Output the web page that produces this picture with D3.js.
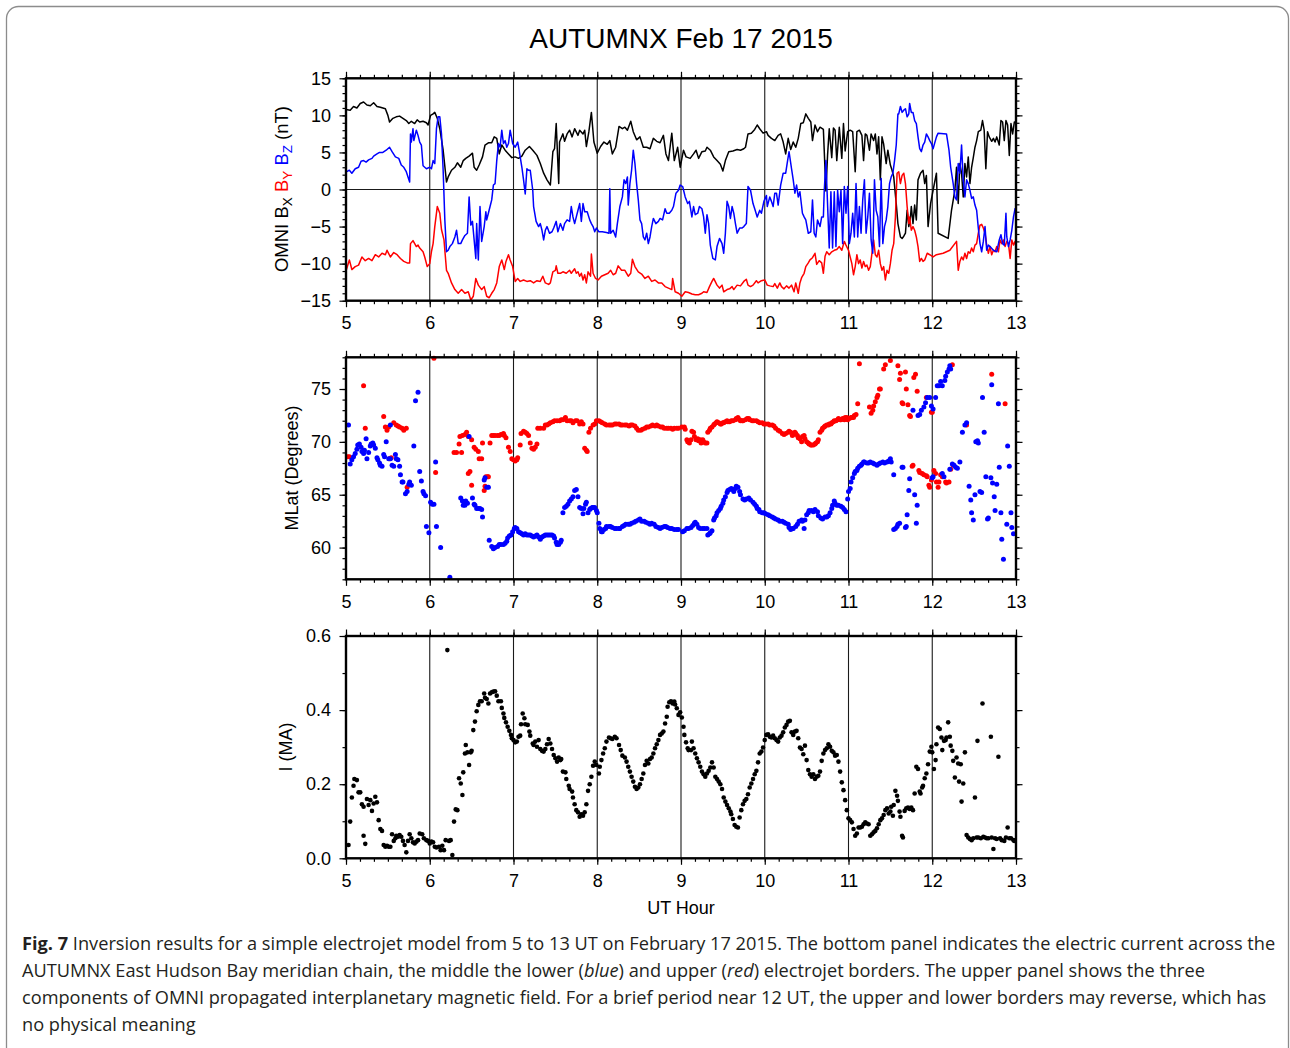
<!DOCTYPE html>
<html><head><meta charset="utf-8">
<script src="https://cdn.jsdelivr.net/npm/d3@7"></script>
<style>body{margin:0;background:#fff}svg{display:block}</style>
</head><body>
<svg id="chart" width="1290" height="1048"></svg>
<script>
// ---------------- DATA ----------------
const titleText = "AUTUMNX Feb 17 2015";
const hourTicks = [5,6,7,8,9,10,11,12,13];
const gridHours = [6,7,8,9,10,11,12];
const imfTicks = [-15,-10,-5,0,5,10,15];
const latTicks = [60,65,70,75];
const currentTicks = [0,0.2,0.4,0.6];

// OMNI Bx (nT) [UT hour, value]
const bxSeries = [[5.00,10.8],[5.05,10.7],[5.09,11.2],[5.13,11.0],[5.17,11.6],[5.21,11.8],[5.25,11.4],[5.29,11.3],[5.33,11.7],[5.37,11.2],[5.41,11.1],[5.47,10.9],[5.50,10.0],[5.52,9.1],[5.56,9.6],[5.60,9.8],[5.64,9.9],[5.68,9.6],[5.72,9.3],[5.75,8.9],[5.78,9.2],[5.82,8.9],[5.85,9.4],[5.88,9.1],[5.92,9.2],[5.96,9.0],[5.98,8.7],[6.01,10.0],[6.04,10.2],[6.06,10.4],[6.09,9.6],[6.12,8.2],[6.16,5.3],[6.20,1.0],[6.22,1.7],[6.26,2.6],[6.30,3.0],[6.33,3.6],[6.37,3.0],[6.40,3.9],[6.43,4.2],[6.47,4.5],[6.51,4.9],[6.53,3.0],[6.56,2.6],[6.59,3.3],[6.63,4.4],[6.66,6.0],[6.70,6.3],[6.74,6.3],[6.77,7.1],[6.80,6.9],[6.83,4.8],[6.86,6.0],[6.90,5.3],[6.94,4.8],[6.98,4.3],[7.02,4.4],[7.06,4.2],[7.10,4.5],[7.14,5.3],[7.19,5.8],[7.23,5.3],[7.28,4.6],[7.32,3.5],[7.36,2.2],[7.40,1.3],[7.44,0.6],[7.47,5.1],[7.49,5.5],[7.51,8.9],[7.54,0.8],[7.55,6.4],[7.59,7.5],[7.61,6.5],[7.64,7.5],[7.67,8.0],[7.70,7.1],[7.73,8.2],[7.77,7.3],[7.79,8.0],[7.83,7.5],[7.85,8.0],[7.87,5.8],[7.90,7.8],[7.93,10.4],[7.96,6.4],[8.00,4.9],[8.04,5.8],[8.08,6.4],[8.12,6.1],[8.15,6.6],[8.18,4.8],[8.22,5.7],[8.26,8.5],[8.30,8.2],[8.33,8.4],[8.36,8.0],[8.40,9.2],[8.43,7.8],[8.47,6.7],[8.51,7.1],[8.55,5.7],[8.59,5.7],[8.63,5.5],[8.67,6.9],[8.71,6.5],[8.75,6.3],[8.79,7.3],[8.82,4.8],[8.85,3.9],[8.89,7.6],[8.92,3.9],[8.96,5.7],[8.99,3.0],[9.03,5.3],[9.06,4.4],[9.11,4.2],[9.15,4.8],[9.18,5.3],[9.21,4.2],[9.25,5.1],[9.29,5.2],[9.31,5.7],[9.35,5.3],[9.39,4.4],[9.43,3.9],[9.47,3.4],[9.50,2.5],[9.53,3.9],[9.57,5.1],[9.62,5.2],[9.67,5.4],[9.71,5.3],[9.75,5.5],[9.77,5.7],[9.80,7.5],[9.84,7.6],[9.88,8.1],[9.91,8.7],[9.94,8.2],[9.98,7.6],[10.02,7.8],[10.04,7.3],[10.08,6.9],[10.12,6.6],[10.16,7.3],[10.19,7.5],[10.22,6.4],[10.25,4.8],[10.28,6.9],[10.31,5.4],[10.34,6.4],[10.37,5.7],[10.40,6.9],[10.43,8.9],[10.46,9.0],[10.49,10.2],[10.52,9.6],[10.55,9.1],[10.57,6.6],[10.60,8.7],[10.63,7.8],[10.66,8.4],[10.70,8.1],[10.73,-0.2],[10.75,4.6],[10.77,8.2],[10.80,4.3],[10.82,8.3],[10.84,8.0],[10.86,3.9],[10.89,8.4],[10.92,4.2],[10.94,8.9],[10.96,5.2],[10.99,7.8],[11.02,8.0],[11.05,7.8],[11.08,2.4],[11.10,7.8],[11.13,8.0],[11.16,7.3],[11.18,3.9],[11.20,7.5],[11.22,7.3],[11.25,5.3],[11.27,7.5],[11.30,6.6],[11.32,7.5],[11.34,4.8],[11.36,7.1],[11.38,1.3],[11.40,7.1],[11.42,6.1],[11.45,3.5],[11.47,5.3],[11.50,3.3],[11.52,2.6],[11.54,1.7],[11.57,-1.9],[11.59,-4.6],[11.62,-6.4],[11.64,-6.6],[11.66,-6.3],[11.68,-5.9],[11.70,-2.8],[11.72,-5.0],[11.74,-3.7],[11.75,-2.3],[11.77,-4.6],[11.79,-2.1],[11.81,-4.1],[11.83,1.3],[11.86,2.2],[11.89,2.6],[11.91,0.8],[11.93,1.9],[11.95,-5.0],[11.98,-1.9],[12.01,-0.1],[12.05,2.2],[12.07,-5.9],[12.19,-6.6],[12.23,-2.8],[12.27,-0.1],[12.29,3.0],[12.31,-1.9],[12.33,3.5],[12.35,2.2],[12.37,-1.0],[12.39,3.5],[12.41,1.7],[12.43,4.4],[12.45,0.8],[12.47,3.0],[12.49,4.3],[12.51,5.7],[12.53,6.6],[12.55,7.8],[12.58,8.0],[12.60,9.3],[12.62,8.0],[12.64,2.8],[12.66,7.8],[12.68,7.1],[12.71,6.5],[12.73,6.9],[12.75,6.4],[12.77,7.1],[12.80,6.0],[12.82,9.3],[12.84,9.1],[12.86,6.6],[12.88,9.3],[12.90,8.7],[12.92,4.6],[12.94,8.9],[12.96,7.5],[12.98,9.1],[13.00,9.0]];

// OMNI By (nT)
const bySeries = [[5.00,-11.0],[5.04,-9.5],[5.07,-10.8],[5.11,-10.4],[5.15,-10.2],[5.19,-9.1],[5.23,-9.6],[5.27,-9.3],[5.31,-9.6],[5.35,-8.8],[5.39,-9.1],[5.43,-8.6],[5.47,-8.8],[5.49,-8.2],[5.53,-9.1],[5.57,-8.5],[5.61,-8.8],[5.65,-9.3],[5.69,-9.7],[5.73,-9.9],[5.76,-9.9],[5.77,-7.3],[5.80,-6.9],[5.84,-7.7],[5.86,-7.5],[5.88,-7.9],[5.92,-8.4],[5.94,-9.1],[5.97,-10.4],[6.00,-10.0],[6.02,-8.4],[6.04,-7.3],[6.06,-5.0],[6.09,-2.3],[6.12,-3.2],[6.14,-5.4],[6.17,-6.8],[6.20,-10.9],[6.22,-11.3],[6.26,-12.6],[6.30,-13.5],[6.34,-14.0],[6.38,-13.5],[6.42,-14.0],[6.46,-13.8],[6.49,-14.9],[6.52,-14.4],[6.55,-12.0],[6.58,-12.9],[6.62,-13.5],[6.65,-13.1],[6.68,-14.4],[6.71,-14.6],[6.74,-14.0],[6.77,-13.5],[6.80,-12.6],[6.83,-10.4],[6.86,-9.5],[6.89,-10.8],[6.91,-9.7],[6.94,-8.8],[6.96,-9.5],[6.99,-10.4],[7.02,-12.4],[7.05,-12.0],[7.08,-12.4],[7.12,-12.2],[7.16,-12.4],[7.20,-12.3],[7.24,-12.6],[7.28,-12.3],[7.32,-12.4],[7.35,-11.7],[7.38,-12.6],[7.42,-12.8],[7.44,-12.6],[7.47,-11.1],[7.50,-10.9],[7.51,-10.3],[7.53,-11.3],[7.56,-11.3],[7.59,-11.1],[7.63,-11.3],[7.67,-10.9],[7.69,-11.3],[7.73,-10.7],[7.75,-11.3],[7.77,-11.1],[7.79,-11.7],[7.81,-11.3],[7.83,-12.2],[7.85,-11.5],[7.87,-12.6],[7.89,-11.1],[7.92,-11.7],[7.93,-8.7],[7.95,-11.3],[7.98,-12.0],[8.01,-12.2],[8.05,-11.7],[8.09,-11.5],[8.13,-11.3],[8.16,-10.9],[8.19,-11.5],[8.22,-11.3],[8.25,-10.3],[8.29,-10.9],[8.33,-10.9],[8.37,-11.7],[8.40,-11.3],[8.42,-9.4],[8.45,-10.4],[8.49,-11.1],[8.53,-11.4],[8.57,-12.0],[8.61,-11.7],[8.65,-12.4],[8.69,-12.2],[8.73,-12.6],[8.77,-12.6],[8.81,-13.1],[8.85,-13.3],[8.89,-13.5],[8.90,-12.0],[8.93,-13.8],[8.97,-14.0],[9.01,-14.4],[9.05,-13.8],[9.09,-13.9],[9.13,-14.1],[9.17,-14.2],[9.21,-14.2],[9.25,-14.0],[9.27,-13.8],[9.31,-13.9],[9.34,-13.1],[9.37,-12.4],[9.39,-12.0],[9.43,-12.9],[9.46,-13.3],[9.49,-12.9],[9.51,-13.8],[9.55,-13.5],[9.58,-13.4],[9.61,-13.1],[9.63,-13.5],[9.67,-12.9],[9.71,-13.0],[9.75,-12.4],[9.78,-12.1],[9.80,-12.9],[9.83,-13.1],[9.86,-12.9],[9.90,-12.3],[9.92,-12.6],[9.96,-12.3],[10.00,-12.2],[10.03,-12.9],[10.06,-13.0],[10.10,-13.1],[10.12,-12.7],[10.15,-13.3],[10.18,-12.6],[10.20,-13.1],[10.23,-13.4],[10.26,-13.0],[10.29,-13.3],[10.32,-12.9],[10.35,-13.8],[10.37,-12.6],[10.40,-14.0],[10.42,-12.6],[10.44,-11.9],[10.47,-11.3],[10.49,-10.4],[10.52,-9.9],[10.54,-9.5],[10.57,-9.2],[10.60,-8.6],[10.62,-10.1],[10.65,-9.6],[10.68,-9.9],[10.70,-11.3],[10.72,-9.0],[10.74,-8.4],[10.77,-8.8],[10.80,-8.4],[10.83,-8.2],[10.86,-8.1],[10.89,-7.7],[10.92,-8.2],[10.95,-7.0],[10.97,-7.5],[11.00,-8.2],[11.02,-9.1],[11.04,-10.0],[11.06,-11.5],[11.08,-10.4],[11.10,-8.8],[11.12,-10.0],[11.14,-9.5],[11.16,-10.6],[11.18,-9.7],[11.20,-10.4],[11.22,-10.2],[11.24,-10.9],[11.26,-10.4],[11.28,-8.6],[11.30,-6.8],[11.32,-8.8],[11.34,-9.1],[11.36,-8.2],[11.38,-10.0],[11.40,-10.9],[11.42,-10.4],[11.44,-12.2],[11.46,-10.9],[11.48,-11.3],[11.50,-10.0],[11.52,-8.2],[11.54,-7.3],[11.56,-3.7],[11.58,2.2],[11.60,2.4],[11.62,0.8],[11.64,1.9],[11.66,2.2],[11.68,0.8],[11.70,-2.3],[11.72,-4.6],[11.73,-3.7],[11.75,-5.5],[11.77,-5.0],[11.79,-5.5],[11.81,-6.4],[11.83,-7.7],[11.85,-9.7],[11.87,-9.3],[11.89,-9.7],[11.91,-9.5],[11.94,-8.6],[11.97,-8.8],[12.01,-9.1],[12.05,-8.8],[12.13,-8.6],[12.21,-8.2],[12.29,-7.0],[12.31,-10.9],[12.33,-9.7],[12.35,-9.1],[12.37,-9.5],[12.39,-8.6],[12.41,-9.3],[12.43,-8.4],[12.45,-8.6],[12.47,-7.9],[12.49,-8.4],[12.51,-7.5],[12.53,-7.3],[12.55,-5.9],[12.57,-4.8],[12.59,-4.7],[12.61,-5.2],[12.63,-5.9],[12.65,-7.5],[12.67,-8.6],[12.69,-7.7],[12.71,-8.8],[12.73,-8.2],[12.75,-8.4],[12.77,-7.7],[12.79,-8.4],[12.81,-6.8],[12.83,-7.3],[12.85,-6.8],[12.87,-7.7],[12.89,-7.0],[12.91,-7.3],[12.93,-9.3],[12.95,-6.8],[12.97,-7.5],[12.99,-7.0],[13.00,-7.7]];

// OMNI Bz (nT)
const bzSeries = [[5.01,2.4],[5.04,2.6],[5.07,2.2],[5.11,2.8],[5.15,3.0],[5.18,3.8],[5.21,3.9],[5.24,3.7],[5.27,4.0],[5.31,4.2],[5.33,4.5],[5.37,4.8],[5.40,5.0],[5.44,5.0],[5.48,5.3],[5.52,5.7],[5.55,5.1],[5.59,4.4],[5.63,4.2],[5.66,3.3],[5.69,3.0],[5.72,2.4],[5.76,1.0],[5.77,7.5],[5.78,6.4],[5.80,8.2],[5.81,6.6],[5.84,8.0],[5.86,7.3],[5.88,6.4],[5.90,6.0],[5.92,3.2],[5.94,3.0],[5.96,2.8],[6.00,3.0],[6.02,2.8],[6.04,3.9],[6.06,3.5],[6.08,8.2],[6.10,9.8],[6.12,9.8],[6.14,7.5],[6.16,2.6],[6.18,-4.1],[6.20,-8.4],[6.22,-8.2],[6.24,-7.7],[6.27,-7.3],[6.30,-6.4],[6.32,-5.5],[6.34,-7.3],[6.37,-7.3],[6.39,-6.8],[6.42,-6.2],[6.45,-5.9],[6.47,-1.0],[6.49,-4.8],[6.51,-4.3],[6.53,-6.8],[6.55,-9.3],[6.56,-4.6],[6.58,-9.5],[6.60,-2.3],[6.62,-7.0],[6.65,-5.0],[6.67,-3.0],[6.68,-4.1],[6.70,-3.2],[6.72,-2.3],[6.74,-1.4],[6.76,0.6],[6.78,0.8],[6.80,3.9],[6.82,6.2],[6.84,5.7],[6.86,8.0],[6.88,6.2],[6.90,6.6],[6.92,5.7],[6.94,6.2],[6.96,8.0],[6.99,6.2],[7.02,5.7],[7.05,6.4],[7.07,5.1],[7.10,3.0],[7.12,1.3],[7.14,-0.6],[7.16,2.8],[7.18,2.6],[7.20,2.6],[7.23,-0.1],[7.24,-2.3],[7.27,-4.3],[7.30,-5.0],[7.32,-4.6],[7.34,-5.5],[7.36,-6.8],[7.38,-5.5],[7.40,-5.0],[7.43,-5.9],[7.46,-5.7],[7.48,-5.2],[7.51,-4.3],[7.53,-5.7],[7.56,-4.6],[7.59,-5.5],[7.61,-4.6],[7.64,-4.1],[7.67,-4.3],[7.69,-2.3],[7.71,-3.7],[7.73,-4.6],[7.75,-3.7],[7.77,-2.8],[7.79,-1.9],[7.81,-4.3],[7.83,-1.9],[7.85,-3.0],[7.88,-3.0],[7.91,-4.1],[7.93,-4.6],[7.95,-5.0],[7.97,-5.7],[7.99,-5.2],[8.02,-5.7],[8.06,-5.7],[8.11,-5.8],[8.14,-5.9],[8.15,0.1],[8.16,-5.9],[8.19,-5.5],[8.22,-6.4],[8.24,-4.6],[8.27,-2.3],[8.30,-1.0],[8.32,1.3],[8.34,0.8],[8.36,1.7],[8.37,-2.1],[8.39,0.8],[8.41,2.6],[8.43,5.3],[8.45,3.5],[8.47,0.8],[8.49,-1.4],[8.51,-4.1],[8.53,-4.6],[8.55,-6.4],[8.57,-6.8],[8.59,-5.9],[8.61,-7.3],[8.63,-6.4],[8.65,-5.0],[8.67,-3.9],[8.70,-4.6],[8.73,-4.3],[8.75,-3.9],[8.78,-4.1],[8.81,-2.6],[8.83,-3.2],[8.86,-3.2],[8.89,-2.8],[8.91,-2.3],[8.94,-0.5],[8.97,-0.1],[8.99,0.6],[9.02,0.4],[9.05,-1.0],[9.08,-1.9],[9.10,-1.6],[9.13,-3.7],[9.15,-2.3],[9.17,-3.4],[9.20,-3.2],[9.22,-2.3],[9.25,-2.6],[9.27,-3.7],[9.29,-5.9],[9.31,-3.4],[9.33,-4.6],[9.35,-7.5],[9.38,-9.3],[9.41,-9.5],[9.43,-7.7],[9.46,-6.6],[9.49,-7.3],[9.51,-8.6],[9.53,-5.9],[9.55,-1.6],[9.57,-2.3],[9.59,-3.9],[9.61,-2.3],[9.63,-3.2],[9.65,-4.6],[9.67,-5.9],[9.70,-5.2],[9.73,-5.2],[9.75,-5.0],[9.78,-4.6],[9.80,0.4],[9.83,-0.1],[9.86,-1.9],[9.88,-2.6],[9.91,-3.7],[9.94,-2.8],[9.96,-3.2],[9.99,-1.6],[10.02,-0.8],[10.03,-2.3],[10.06,-1.0],[10.08,-1.6],[10.10,-2.3],[10.12,-0.5],[10.14,-0.5],[10.16,-2.1],[10.19,0.6],[10.22,2.2],[10.25,2.2],[10.27,3.7],[10.29,5.1],[10.32,2.8],[10.34,1.3],[10.36,-0.5],[10.38,0.6],[10.40,-1.0],[10.42,-0.3],[10.45,-3.2],[10.47,-3.7],[10.49,-4.1],[10.52,-5.9],[10.55,-5.7],[10.57,-1.4],[10.59,-5.9],[10.61,-6.4],[10.63,-4.1],[10.66,-5.0],[10.68,-3.7],[10.70,-3.7],[10.71,-0.3],[10.73,3.9],[10.77,-7.9],[10.79,-0.3],[10.81,-7.9],[10.83,-0.3],[10.85,-7.7],[10.87,-0.1],[10.89,-3.0],[10.91,-0.1],[10.93,-7.3],[10.95,0.4],[10.97,-3.2],[10.99,0.4],[11.01,-7.3],[11.03,-5.9],[11.05,-3.2],[11.07,-6.4],[11.09,0.8],[11.11,-6.4],[11.13,-2.3],[11.15,-5.9],[11.17,-1.4],[11.19,1.3],[11.21,-5.9],[11.23,-3.7],[11.25,-0.5],[11.27,-6.8],[11.29,-8.6],[11.31,1.3],[11.33,-2.8],[11.35,-3.7],[11.37,-7.7],[11.39,1.5],[11.41,-7.3],[11.43,-5.0],[11.45,-4.1],[11.47,-2.3],[11.49,0.8],[11.51,1.7],[11.53,2.2],[11.55,3.9],[11.57,6.0],[11.59,10.2],[11.60,10.2],[11.62,11.2],[11.64,10.4],[11.66,10.7],[11.68,10.9],[11.70,9.8],[11.72,10.2],[11.73,11.6],[11.75,10.4],[11.77,10.4],[11.79,9.3],[11.81,8.9],[11.83,7.1],[11.85,5.5],[11.87,5.1],[11.89,6.0],[11.91,6.4],[11.93,7.5],[11.95,7.1],[11.97,6.6],[11.99,6.2],[12.01,5.5],[12.05,7.1],[12.07,7.6],[12.17,7.5],[12.20,5.3],[12.22,3.0],[12.25,0.8],[12.27,-1.0],[12.29,-1.4],[12.31,3.5],[12.33,2.2],[12.35,6.0],[12.37,1.3],[12.39,-1.0],[12.41,1.3],[12.43,0.8],[12.45,-0.1],[12.47,-1.2],[12.49,-1.0],[12.51,-2.1],[12.53,-2.8],[12.55,-5.2],[12.57,-7.3],[12.59,-8.4],[12.61,-7.0],[12.63,-5.0],[12.65,-8.2],[12.67,-7.5],[12.69,-7.7],[12.73,-8.2],[12.77,-8.4],[12.80,-6.8],[12.82,-6.1],[12.84,-7.3],[12.86,-7.5],[12.88,-3.2],[12.89,-6.4],[12.91,-7.7],[12.93,-6.8],[12.95,-5.5],[12.97,-3.7],[12.99,-2.5]];

// Upper electrojet border (red), MLat degrees
const upperBorder = [[5.02,68.6],[5.04,68.6],[5.21,75.3],[5.23,71.3],[5.45,72.4],[5.47,71.4],[5.49,71.1],[5.51,71.4],[5.52,68.4],[5.54,68.5],[5.57,71.8],[5.60,71.6],[5.62,71.5],[5.64,71.4],[5.67,71.3],[5.69,71.1],[5.72,71.3],[5.73,65.7],[6.05,77.9],[6.07,67.1],[6.29,69.0],[6.32,69.0],[6.35,69.8],[6.36,70.5],[6.38,69.0],[6.39,70.6],[6.42,70.7],[6.44,70.9],[6.46,70.5],[6.46,67.0],[6.48,67.2],[6.50,65.9],[6.50,70.2],[6.53,69.5],[6.55,69.3],[6.58,69.1],[6.59,68.4],[6.62,68.4],[6.63,69.9],[6.65,65.4],[6.66,65.8],[6.67,66.7],[6.69,66.7],[6.70,66.7],[6.72,69.9],[6.74,70.6],[6.76,70.6],[6.78,70.6],[6.81,70.6],[6.83,70.6],[6.85,70.7],[6.88,70.8],[6.89,70.6],[6.91,70.4],[6.94,69.5],[6.96,69.1],[6.98,68.4],[7.00,68.3],[7.02,68.2],[7.04,68.3],[7.05,68.5],[7.08,69.7],[7.09,70.8],[7.12,71.0],[7.14,70.9],[7.16,70.8],[7.18,70.6],[7.20,69.9],[7.22,69.4],[7.24,69.3],[7.26,69.5],[7.28,69.8],[7.29,71.3],[7.32,71.3],[7.36,71.3],[7.38,71.6],[7.40,71.6],[7.42,71.7],[7.44,71.8],[7.47,71.9],[7.49,72.0],[7.52,72.0],[7.55,72.0],[7.57,72.1],[7.59,72.1],[7.62,72.3],[7.64,72.0],[7.67,72.0],[7.69,72.0],[7.71,71.8],[7.74,72.0],[7.76,72.0],[7.79,71.7],[7.81,71.9],[7.83,71.7],[7.85,69.4],[7.87,69.2],[7.88,69.1],[7.90,70.9],[7.92,71.3],[7.95,71.6],[7.97,71.7],[7.99,72.0],[8.02,72.0],[8.04,71.9],[8.06,71.8],[8.09,71.7],[8.11,71.6],[8.14,71.6],[8.16,71.6],[8.18,71.6],[8.21,71.7],[8.23,71.7],[8.26,71.7],[8.28,71.6],[8.30,71.6],[8.33,71.6],[8.35,71.6],[8.38,71.5],[8.40,71.6],[8.42,71.6],[8.45,71.5],[8.47,71.3],[8.49,71.1],[8.52,71.1],[8.54,71.2],[8.57,71.3],[8.59,71.4],[8.61,71.4],[8.64,71.5],[8.66,71.6],[8.69,71.5],[8.71,71.6],[8.73,71.5],[8.76,71.4],[8.78,71.4],[8.80,71.3],[8.83,71.3],[8.85,71.3],[8.88,71.3],[8.90,71.2],[8.92,71.3],[8.95,71.3],[8.97,71.3],[9.01,71.4],[9.04,71.4],[9.05,71.2],[9.07,70.2],[9.08,70.0],[9.10,69.9],[9.12,70.2],[9.13,71.0],[9.15,70.9],[9.16,70.5],[9.18,70.2],[9.20,70.3],[9.21,70.1],[9.23,70.2],[9.24,69.9],[9.26,70.2],[9.27,70.0],[9.29,69.9],[9.31,69.9],[9.32,70.9],[9.34,71.1],[9.35,71.3],[9.37,71.4],[9.39,71.6],[9.40,71.7],[9.42,71.8],[9.43,71.9],[9.45,71.8],[9.47,71.7],[9.48,71.7],[9.50,71.8],[9.51,71.8],[9.53,71.9],[9.55,72.0],[9.56,71.9],[9.58,71.9],[9.60,72.0],[9.62,72.0],[9.65,72.1],[9.66,72.2],[9.68,72.3],[9.70,72.1],[9.71,72.0],[9.73,72.0],[9.74,72.0],[9.77,72.1],[9.79,72.2],[9.81,72.2],[9.82,72.1],[9.85,72.0],[9.87,72.0],[9.90,72.0],[9.92,71.9],[9.94,71.8],[9.97,71.8],[9.99,71.7],[10.01,71.7],[10.04,71.7],[10.06,71.6],[10.09,71.6],[10.11,71.5],[10.13,71.3],[10.16,71.1],[10.18,71.0],[10.21,70.8],[10.23,70.7],[10.25,70.8],[10.28,70.9],[10.29,71.0],[10.31,70.9],[10.33,70.6],[10.34,70.7],[10.36,70.9],[10.37,70.8],[10.39,70.6],[10.40,70.4],[10.42,70.3],[10.44,70.0],[10.45,70.5],[10.47,70.6],[10.48,70.3],[10.50,70.0],[10.52,69.9],[10.53,69.8],[10.55,69.7],[10.56,69.7],[10.58,69.7],[10.60,69.8],[10.61,69.9],[10.63,70.0],[10.64,70.2],[10.66,70.9],[10.68,71.1],[10.69,71.3],[10.71,71.4],[10.72,71.5],[10.74,71.6],[10.76,71.6],[10.77,71.7],[10.79,71.7],[10.80,71.8],[10.82,71.9],[10.83,72.0],[10.85,72.0],[10.87,72.1],[10.88,72.2],[10.90,72.1],[10.91,72.1],[10.93,72.2],[10.95,72.1],[10.96,72.3],[10.98,72.3],[10.99,72.1],[11.01,72.2],[11.03,72.3],[11.04,72.3],[11.06,72.3],[11.07,72.5],[11.09,72.6],[11.11,73.6],[11.13,77.4],[11.25,73.3],[11.27,72.7],[11.29,73.0],[11.30,73.4],[11.32,73.8],[11.34,74.2],[11.35,74.4],[11.37,75.0],[11.38,75.0],[11.42,76.9],[11.44,77.3],[11.50,77.7],[11.59,77.2],[11.61,75.9],[11.62,76.5],[11.64,73.7],[11.65,73.6],[11.68,76.6],[11.69,75.0],[11.71,73.5],[11.73,72.5],[11.74,72.4],[11.78,76.1],[11.80,76.4],[11.82,74.8],[11.93,74.2],[11.99,72.8],[12.00,72.8],[12.24,77.3],[12.41,71.6],[12.71,76.4],[12.87,73.6],[11.76,67.7],[11.77,67.8],[11.84,67.3],[11.85,67.1],[11.88,67.0],[11.90,66.9],[11.93,66.8],[11.94,66.7],[11.96,65.9],[11.97,65.7],[11.99,66.4],[12.02,67.3],[12.04,67.0],[12.05,66.2],[12.07,65.7],[12.08,66.2],[12.10,66.9],[12.12,66.7],[12.16,66.2],[12.17,66.1],[12.20,66.2],[12.22,67.4],[12.25,67.8]];

// Lower electrojet border (blue), MLat degrees
const lowerBorder = [[5.03,71.6],[5.05,67.9],[5.07,68.3],[5.09,68.6],[5.11,68.9],[5.13,69.3],[5.14,69.7],[5.16,69.8],[5.18,69.5],[5.19,69.1],[5.21,68.9],[5.22,69.2],[5.24,70.3],[5.25,68.4],[5.27,69.0],[5.29,69.6],[5.30,69.8],[5.32,69.9],[5.33,69.7],[5.35,69.4],[5.37,68.5],[5.38,68.3],[5.40,68.0],[5.41,67.8],[5.43,67.7],[5.45,68.8],[5.46,68.6],[5.48,70.0],[5.53,71.6],[5.51,68.4],[5.53,68.4],[5.55,67.8],[5.57,67.7],[5.59,68.8],[5.60,68.4],[5.62,68.3],[5.64,67.7],[5.65,66.9],[5.67,66.2],[5.68,66.2],[5.71,65.1],[5.73,65.3],[5.75,66.0],[5.76,66.2],[5.78,65.9],[5.81,69.6],[5.83,73.9],[5.86,74.7],[5.88,67.2],[5.90,66.3],[5.92,65.3],[5.93,65.1],[5.95,64.9],[5.96,62.0],[5.99,61.4],[6.01,64.3],[6.03,64.1],[6.05,64.1],[6.07,68.1],[6.08,62.0],[6.13,60.0],[6.24,57.2],[6.37,64.7],[6.39,64.4],[6.40,64.0],[6.42,64.0],[6.43,64.4],[6.45,64.2],[6.47,70.5],[6.51,64.7],[6.53,64.1],[6.54,64.0],[6.56,63.7],[6.58,63.7],[6.60,63.7],[6.62,63.6],[6.63,62.9],[6.65,66.4],[6.66,66.6],[6.68,65.7],[6.70,65.7],[6.71,60.7],[6.74,60.1],[6.76,59.9],[6.78,60.0],[6.81,60.1],[6.83,60.3],[6.85,60.3],[6.88,60.3],[6.90,60.4],[6.92,60.6],[6.93,60.9],[6.95,61.1],[6.97,61.2],[6.99,61.5],[7.01,61.8],[7.02,61.9],[7.04,61.8],[7.06,61.5],[7.08,61.4],[7.10,61.3],[7.12,61.2],[7.14,61.3],[7.16,61.2],[7.18,61.2],[7.20,61.2],[7.22,61.1],[7.24,61.0],[7.26,61.1],[7.28,61.2],[7.30,61.0],[7.32,60.8],[7.34,61.0],[7.36,61.1],[7.38,61.2],[7.40,61.2],[7.42,61.2],[7.44,61.2],[7.46,61.2],[7.48,61.1],[7.49,60.9],[7.51,60.5],[7.52,60.3],[7.54,60.3],[7.56,60.5],[7.57,60.7],[7.59,63.3],[7.61,63.8],[7.63,63.9],[7.65,64.1],[7.67,64.4],[7.69,64.6],[7.71,64.8],[7.73,65.4],[7.75,65.5],[7.77,64.8],[7.79,63.8],[7.81,63.7],[7.83,63.2],[7.84,63.7],[7.86,64.1],[7.87,64.3],[7.89,63.3],[7.91,63.6],[7.92,63.7],[7.94,63.8],[7.95,63.8],[7.97,63.8],[7.99,63.5],[8.00,63.3],[8.02,62.3],[8.03,61.8],[8.05,61.5],[8.06,61.5],[8.08,61.7],[8.10,61.8],[8.11,62.0],[8.14,62.0],[8.16,62.0],[8.18,61.9],[8.21,61.8],[8.23,61.8],[8.26,61.8],[8.27,61.8],[8.30,62.0],[8.32,62.1],[8.34,62.2],[8.37,62.2],[8.39,62.2],[8.41,62.3],[8.44,62.4],[8.46,62.5],[8.49,62.6],[8.51,62.7],[8.53,62.5],[8.56,62.5],[8.58,62.4],[8.61,62.3],[8.63,62.2],[8.65,62.3],[8.68,62.2],[8.70,62.0],[8.73,61.9],[8.75,61.8],[8.77,61.9],[8.80,62.0],[8.82,62.0],[8.84,61.9],[8.87,61.8],[8.89,61.8],[8.92,61.7],[8.95,61.7],[8.97,61.7],[9.02,61.5],[9.04,61.6],[9.07,61.8],[9.09,61.8],[9.12,61.9],[9.14,62.1],[9.16,62.3],[9.17,62.4],[9.19,62.2],[9.21,61.9],[9.23,61.8],[9.26,61.8],[9.28,61.8],[9.31,61.8],[9.32,61.2],[9.34,61.3],[9.35,61.4],[9.37,61.6],[9.39,62.6],[9.40,62.8],[9.42,63.0],[9.43,63.3],[9.45,63.5],[9.47,63.7],[9.48,63.9],[9.50,64.2],[9.51,64.5],[9.53,64.8],[9.55,65.2],[9.56,65.4],[9.58,65.5],[9.60,65.6],[9.62,65.5],[9.63,65.3],[9.65,65.6],[9.66,65.8],[9.68,65.7],[9.70,65.3],[9.71,65.0],[9.74,64.6],[9.76,64.5],[9.78,64.6],[9.81,64.7],[9.83,64.5],[9.86,64.3],[9.88,64.1],[9.90,63.9],[9.91,63.7],[9.93,63.6],[9.94,63.4],[9.97,63.3],[9.99,63.3],[10.01,63.2],[10.04,63.1],[10.06,63.0],[10.09,62.9],[10.11,62.8],[10.13,62.7],[10.16,62.6],[10.18,62.5],[10.21,62.5],[10.23,62.4],[10.25,62.3],[10.28,62.2],[10.29,61.9],[10.31,61.7],[10.33,61.8],[10.34,61.8],[10.37,62.0],[10.39,62.2],[10.41,62.5],[10.44,62.6],[10.45,62.5],[10.47,61.8],[10.48,62.6],[10.50,63.1],[10.52,63.3],[10.53,63.5],[10.56,63.5],[10.58,63.4],[10.60,63.6],[10.63,63.4],[10.64,63.0],[10.67,62.8],[10.69,62.7],[10.72,62.9],[10.74,62.9],[10.76,63.0],[10.78,63.3],[10.80,63.7],[10.81,64.0],[10.83,64.4],[10.84,64.2],[10.86,64.0],[10.88,64.0],[10.91,63.9],[10.93,63.8],[10.95,63.6],[10.97,63.4],[10.99,64.6],[11.00,65.3],[11.02,65.6],[11.03,66.2],[11.05,66.6],[11.07,67.0],[11.08,67.2],[11.10,67.3],[11.11,67.5],[11.13,67.7],[11.15,67.8],[11.16,67.9],[11.18,68.1],[11.19,68.1],[11.22,68.0],[11.24,68.0],[11.26,68.1],[11.29,68.0],[11.31,67.9],[11.34,67.8],[11.36,67.9],[11.38,68.0],[11.41,68.1],[11.43,68.0],[11.46,68.1],[11.48,68.2],[11.50,68.4],[11.51,68.1],[11.54,66.9],[11.54,61.7],[11.56,61.8],[11.58,62.0],[11.59,62.2],[11.61,62.3],[11.64,67.6],[11.65,67.6],[11.68,61.9],[11.69,62.0],[11.70,63.1],[11.72,65.4],[11.73,66.5],[11.79,65.0],[11.81,62.3],[11.82,64.0],[11.77,73.0],[11.83,72.5],[11.85,72.6],[11.87,73.0],[11.90,73.3],[11.92,73.7],[11.94,74.2],[11.97,74.2],[11.99,73.4],[12.01,73.1],[12.04,74.2],[12.06,75.3],[12.08,75.3],[12.10,75.7],[12.12,75.3],[12.15,75.8],[12.16,76.2],[12.18,76.6],[12.20,76.9],[12.21,77.2],[12.22,76.9],[12.00,66.6],[12.01,66.7],[12.12,67.0],[12.14,66.7],[12.21,67.4],[12.24,67.9],[12.26,67.8],[12.28,67.6],[12.30,67.5],[12.33,68.1],[12.36,70.9],[12.39,71.6],[12.41,71.8],[12.44,65.8],[12.46,64.5],[12.47,63.3],[12.49,62.6],[12.51,65.0],[12.52,70.0],[12.54,70.1],[12.55,69.9],[12.57,65.3],[12.59,65.2],[12.60,74.2],[12.62,70.9],[12.64,66.7],[12.66,62.7],[12.67,62.8],[12.70,66.6],[12.71,75.4],[12.72,66.1],[12.74,64.8],[12.75,63.5],[12.77,66.0],[12.79,73.6],[12.80,67.6],[12.82,63.3],[12.83,60.8],[12.85,58.9],[12.89,62.2],[12.90,69.6],[12.92,67.7],[12.94,63.3],[12.95,61.9],[12.97,61.3]];

// Electrojet current I (MA)
const currentMA = [[5.03,0.036],[5.05,0.099],[5.07,0.164],[5.09,0.196],[5.10,0.214],[5.13,0.211],[5.15,0.178],[5.17,0.178],[5.19,0.146],[5.21,0.139],[5.21,0.061],[5.23,0.039],[5.25,0.160],[5.27,0.144],[5.29,0.157],[5.31,0.128],[5.33,0.148],[5.35,0.166],[5.37,0.151],[5.39,0.103],[5.41,0.079],[5.43,0.074],[5.45,0.036],[5.47,0.031],[5.49,0.034],[5.51,0.031],[5.53,0.031],[5.55,0.065],[5.57,0.047],[5.59,0.054],[5.60,0.061],[5.62,0.058],[5.64,0.063],[5.66,0.058],[5.68,0.047],[5.70,0.036],[5.72,0.016],[5.74,0.047],[5.76,0.065],[5.78,0.054],[5.80,0.043],[5.82,0.040],[5.84,0.045],[5.86,0.049],[5.88,0.067],[5.91,0.065],[5.93,0.054],[5.96,0.049],[5.98,0.047],[6.00,0.040],[6.02,0.045],[6.04,0.043],[6.06,0.031],[6.08,0.029],[6.11,0.031],[6.13,0.022],[6.15,0.034],[6.17,0.022],[6.19,0.049],[6.21,0.562],[6.23,0.047],[6.25,0.049],[6.27,0.009],[6.29,0.099],[6.31,0.132],[6.33,0.130],[6.35,0.216],[6.37,0.202],[6.39,0.171],[6.40,0.232],[6.42,0.283],[6.43,0.306],[6.45,0.286],[6.47,0.252],[6.49,0.286],[6.50,0.290],[6.52,0.346],[6.54,0.369],[6.56,0.397],[6.58,0.414],[6.60,0.424],[6.62,0.424],[6.65,0.445],[6.66,0.433],[6.68,0.430],[6.70,0.418],[6.72,0.445],[6.74,0.448],[6.76,0.450],[6.78,0.451],[6.80,0.439],[6.82,0.424],[6.85,0.424],[6.86,0.406],[6.88,0.391],[6.89,0.379],[6.91,0.367],[6.93,0.355],[6.95,0.344],[6.97,0.333],[6.98,0.324],[7.00,0.319],[7.02,0.313],[7.04,0.315],[7.06,0.328],[7.08,0.331],[7.09,0.362],[7.11,0.391],[7.13,0.378],[7.14,0.362],[7.17,0.360],[7.19,0.342],[7.20,0.331],[7.23,0.310],[7.24,0.306],[7.26,0.315],[7.28,0.301],[7.30,0.319],[7.32,0.295],[7.34,0.290],[7.36,0.288],[7.38,0.295],[7.40,0.308],[7.42,0.322],[7.44,0.310],[7.46,0.295],[7.48,0.279],[7.50,0.270],[7.52,0.261],[7.54,0.272],[7.56,0.265],[7.57,0.268],[7.59,0.234],[7.62,0.232],[7.63,0.214],[7.66,0.196],[7.67,0.187],[7.70,0.180],[7.71,0.164],[7.73,0.146],[7.75,0.130],[7.77,0.124],[7.79,0.112],[7.81,0.119],[7.83,0.115],[7.85,0.124],[7.87,0.146],[7.89,0.182],[7.91,0.200],[7.93,0.220],[7.95,0.250],[7.97,0.261],[7.99,0.252],[8.02,0.229],[8.03,0.247],[8.05,0.265],[8.07,0.283],[8.09,0.297],[8.11,0.315],[8.14,0.326],[8.16,0.324],[8.18,0.322],[8.21,0.328],[8.23,0.324],[8.26,0.306],[8.28,0.292],[8.30,0.277],[8.33,0.272],[8.35,0.261],[8.37,0.247],[8.39,0.234],[8.41,0.220],[8.43,0.207],[8.45,0.193],[8.47,0.187],[8.49,0.191],[8.51,0.200],[8.53,0.214],[8.55,0.229],[8.57,0.252],[8.59,0.263],[8.61,0.256],[8.63,0.268],[8.65,0.272],[8.67,0.283],[8.69,0.297],[8.71,0.308],[8.73,0.319],[8.75,0.333],[8.77,0.337],[8.79,0.342],[8.81,0.364],[8.83,0.382],[8.84,0.409],[8.86,0.421],[8.88,0.424],[8.90,0.418],[8.92,0.423],[8.93,0.415],[8.95,0.405],[8.97,0.387],[8.99,0.394],[9.01,0.380],[9.03,0.355],[9.04,0.333],[9.06,0.313],[9.08,0.297],[9.09,0.292],[9.12,0.292],[9.13,0.315],[9.15,0.297],[9.17,0.283],[9.19,0.270],[9.21,0.259],[9.23,0.247],[9.25,0.234],[9.27,0.227],[9.29,0.220],[9.31,0.229],[9.33,0.236],[9.35,0.245],[9.37,0.259],[9.39,0.245],[9.41,0.220],[9.43,0.214],[9.45,0.207],[9.47,0.200],[9.49,0.187],[9.51,0.164],[9.53,0.153],[9.55,0.144],[9.57,0.135],[9.59,0.126],[9.60,0.119],[9.62,0.106],[9.64,0.090],[9.66,0.085],[9.68,0.083],[9.70,0.110],[9.72,0.130],[9.74,0.146],[9.76,0.155],[9.78,0.160],[9.80,0.173],[9.82,0.191],[9.84,0.202],[9.86,0.214],[9.88,0.227],[9.90,0.236],[9.92,0.259],[9.94,0.283],[9.96,0.288],[9.98,0.299],[10.00,0.319],[10.02,0.333],[10.04,0.335],[10.06,0.328],[10.08,0.326],[10.10,0.331],[10.12,0.324],[10.14,0.319],[10.16,0.315],[10.18,0.326],[10.20,0.331],[10.22,0.340],[10.24,0.353],[10.26,0.360],[10.28,0.369],[10.30,0.371],[10.32,0.340],[10.34,0.333],[10.36,0.342],[10.38,0.344],[10.40,0.324],[10.42,0.299],[10.44,0.295],[10.46,0.281],[10.48,0.304],[10.50,0.265],[10.52,0.238],[10.54,0.227],[10.56,0.220],[10.58,0.227],[10.60,0.214],[10.62,0.220],[10.64,0.223],[10.66,0.234],[10.68,0.263],[10.70,0.283],[10.72,0.292],[10.74,0.297],[10.76,0.308],[10.78,0.301],[10.80,0.290],[10.82,0.286],[10.84,0.277],[10.86,0.279],[10.88,0.261],[10.90,0.234],[10.92,0.205],[10.94,0.184],[10.96,0.157],[10.98,0.130],[11.00,0.108],[11.02,0.103],[11.04,0.097],[11.06,0.079],[11.08,0.061],[11.10,0.067],[11.12,0.083],[11.14,0.083],[11.16,0.085],[11.18,0.092],[11.20,0.097],[11.22,0.094],[11.24,0.092],[11.26,0.061],[11.28,0.065],[11.30,0.070],[11.32,0.074],[11.34,0.081],[11.36,0.092],[11.38,0.103],[11.40,0.108],[11.42,0.117],[11.44,0.130],[11.46,0.135],[11.48,0.121],[11.50,0.126],[11.51,0.139],[11.53,0.115],[11.54,0.144],[11.56,0.182],[11.58,0.169],[11.59,0.155],[11.61,0.126],[11.62,0.112],[11.64,0.061],[11.65,0.056],[11.67,0.128],[11.69,0.135],[11.71,0.137],[11.73,0.133],[11.75,0.137],[11.77,0.130],[11.79,0.175],[11.81,0.247],[11.83,0.241],[11.85,0.180],[11.86,0.175],[11.88,0.191],[11.89,0.196],[11.91,0.216],[11.93,0.229],[11.95,0.254],[11.97,0.288],[11.99,0.301],[12.00,0.286],[12.02,0.241],[12.04,0.265],[12.05,0.308],[12.07,0.353],[12.09,0.349],[12.11,0.326],[12.12,0.292],[12.14,0.317],[12.16,0.319],[12.17,0.326],[12.19,0.367],[12.21,0.328],[12.22,0.304],[12.24,0.290],[12.25,0.263],[12.27,0.218],[12.29,0.272],[12.31,0.256],[12.32,0.207],[12.34,0.254],[12.35,0.153],[12.37,0.202],[12.39,0.286],[12.41,0.063],[12.43,0.056],[12.45,0.052],[12.47,0.049],[12.49,0.054],[12.51,0.164],[12.53,0.056],[12.54,0.317],[12.55,0.056],[12.58,0.054],[12.60,0.418],[12.61,0.058],[12.63,0.056],[12.65,0.054],[12.67,0.054],[12.70,0.328],[12.71,0.056],[12.73,0.025],[12.75,0.054],[12.77,0.052],[12.79,0.274],[12.81,0.054],[12.83,0.049],[12.86,0.047],[12.88,0.056],[12.90,0.083],[12.92,0.054],[12.94,0.054],[12.97,0.049],[12.98,0.047]];

const captionLines = [
  [{t:"Fig. 7", b:true},{t:" Inversion results for a simple electrojet model from 5 to 13 UT on February 17 2015. The bottom panel indicates the electric current across the"}],
  [{t:"AUTUMNX East Hudson Bay meridian chain, the middle the lower ("},{t:"blue",i:true},{t:") and upper ("},{t:"red",i:true},{t:") electrojet borders. The upper panel shows the three"}],
  [{t:"components of OMNI propagated interplanetary magnetic field. For a brief period near 12 UT, the upper and lower borders may reverse, which has"}],
  [{t:"no physical meaning"}]
];

// ---------------- DRAW ----------------
const svg = d3.select("#chart");
const FONT = '"Liberation Sans", Arial, Helvetica, sans-serif';
const CAPFONT = '"Open Sans", "Noto Sans", sans-serif';

svg.append("rect").attr("x",6.5).attr("y",6.5).attr("width",1282).attr("height",1100)
  .attr("rx",12).attr("fill","none").attr("stroke","#8c8c8c").attr("stroke-width",1.3);

svg.append("text").attr("x",681).attr("y",48).attr("text-anchor","middle")
  .attr("font-family",FONT).attr("font-size",28).attr("fill","#000").text(titleText);

const x = d3.scaleLinear().domain([5,13]).range([346,1016]);
const minorX = d3.range(0,49).map(i => 5 + i/6);
const minus = d => (d < 0 ? "\u2212" + Math.abs(d) : String(d));

function styleAxis(sel){
  sel.select(".domain").remove();
  sel.selectAll(".tick line").attr("stroke","#000").attr("stroke-width",1.2);
  sel.selectAll(".tick text").attr("font-family",FONT).attr("font-size",18).attr("fill","#000");
}

function drawPanel(p){
  const y = d3.scaleLinear().domain(p.domain).range([p.bottom, p.top]);
  const g = svg.append("g");
  g.selectAll("line.grid").data(gridHours).join("line").attr("class","grid")
    .attr("x1",d=>x(d)).attr("x2",d=>x(d)).attr("y1",p.top).attr("y2",p.bottom)
    .attr("stroke","#1a1a1a").attr("stroke-width",1.1);
  g.append("g").attr("transform",`translate(0,${p.bottom})`)
    .call(d3.axisBottom(x).tickValues(hourTicks).tickSize(6.5).tickPadding(9.5).tickFormat(d3.format("d"))).call(styleAxis);
  g.append("g").attr("transform",`translate(0,${p.bottom})`)
    .call(d3.axisBottom(x).tickValues(minorX).tickSize(3.5).tickFormat("")).call(styleAxis);
  g.append("g").attr("transform",`translate(0,${p.top})`)
    .call(d3.axisTop(x).tickValues(hourTicks).tickSize(6.5).tickFormat("")).call(styleAxis);
  g.append("g").attr("transform",`translate(0,${p.top})`)
    .call(d3.axisTop(x).tickValues(minorX).tickSize(3.5).tickFormat("")).call(styleAxis);
  g.append("g").attr("transform","translate(346,0)")
    .call(d3.axisLeft(y).tickValues(p.major).tickSize(6.5).tickPadding(8.5).tickFormat(p.fmt)).call(styleAxis);
  g.append("g").attr("transform","translate(346,0)")
    .call(d3.axisLeft(y).tickValues(p.minor).tickSize(3.5).tickFormat("")).call(styleAxis);
  g.append("g").attr("transform","translate(1016,0)")
    .call(d3.axisRight(y).tickValues(p.major).tickSize(6.5).tickFormat("")).call(styleAxis);
  g.append("g").attr("transform","translate(1016,0)")
    .call(d3.axisRight(y).tickValues(p.minor).tickSize(3.5).tickFormat("")).call(styleAxis);
  p.y = y; p.g = g;
  return p;
}
function drawFrame(p){
  svg.append("rect").attr("x",346).attr("y",p.top).attr("width",670).attr("height",p.bottom-p.top)
    .attr("fill","none").attr("stroke","#000").attr("stroke-width",2.4);
}

// Panel 1: OMNI IMF
const p1 = drawPanel({top:78.3,bottom:300.7,domain:[-15,15],major:imfTicks,minor:d3.range(-15,15.01,1),fmt:minus});
p1.g.append("line").attr("x1",346).attr("x2",1016).attr("y1",p1.y(0)).attr("y2",p1.y(0))
  .attr("stroke","#1a1a1a").attr("stroke-width",1.1);
const line1 = d3.line().x(d=>x(d[0])).y(d=>p1.y(d[1]));
[[bxSeries,"#000000"],[bySeries,"#ff0000"],[bzSeries,"#0000ff"]].forEach(([s,c])=>{
  p1.g.append("path").datum(s).attr("d",line1).attr("fill","none").attr("stroke",c)
    .attr("stroke-width",1.5).attr("stroke-linejoin","round");
});
drawFrame(p1);

// Panel 2: borders
const p2 = drawPanel({top:357.3,bottom:579.3,domain:[57,78],major:latTicks,minor:d3.range(57,78.01,1),fmt:d3.format("d")});
p2.g.selectAll("circle.up").data(upperBorder).join("circle").attr("class","up")
  .attr("cx",d=>x(d[0])).attr("cy",d=>p2.y(d[1])).attr("r",2.5).attr("fill","#ff0000");
p2.g.selectAll("circle.lo").data(lowerBorder).join("circle").attr("class","lo")
  .attr("cx",d=>x(d[0])).attr("cy",d=>p2.y(d[1])).attr("r",2.5).attr("fill","#0000ff");
drawFrame(p2);

// Panel 3: current
const p3 = drawPanel({top:636,bottom:858.3,domain:[0,0.6],major:currentTicks,minor:d3.range(0,0.601,0.1),fmt:d3.format(".1f")});
p3.g.selectAll("circle.cur").data(currentMA).join("circle").attr("class","cur")
  .attr("cx",d=>x(d[0])).attr("cy",d=>p3.y(d[1])).attr("r",2.3).attr("fill","#000");
drawFrame(p3);

// Axis titles
const yl1 = svg.append("text").attr("transform","translate(288,189) rotate(-90)")
  .attr("text-anchor","middle").attr("font-family",FONT).attr("font-size",18.5).attr("fill","#000");
yl1.append("tspan").text("OMNI B");
yl1.append("tspan").attr("font-size",13.5).attr("dy",4).text("X");
yl1.append("tspan").attr("dy",-4).text(" ");
yl1.append("tspan").attr("fill","#ff0000").text("B");
yl1.append("tspan").attr("fill","#ff0000").attr("font-size",13.5).attr("dy",4).text("Y");
yl1.append("tspan").attr("dy",-4).text(" ");
yl1.append("tspan").attr("fill","#0000ff").text("B");
yl1.append("tspan").attr("fill","#0000ff").attr("font-size",13.5).attr("dy",4).text("Z");
yl1.append("tspan").attr("dy",-4).text(" (nT)");

svg.append("text").attr("transform","translate(297.5,468) rotate(-90)").attr("text-anchor","middle")
  .attr("font-family",FONT).attr("font-size",18).attr("fill","#000").text("MLat (Degrees)");
svg.append("text").attr("transform","translate(291.5,747) rotate(-90)").attr("text-anchor","middle")
  .attr("font-family",FONT).attr("font-size",18).attr("fill","#000").text("I (MA)");
svg.append("text").attr("x",681).attr("y",914).attr("text-anchor","middle")
  .attr("font-family",FONT).attr("font-size",18).attr("fill","#000").text("UT Hour");

// Caption
const capBase = [950,977,1004,1031];
const capNodes = captionLines.map((segs,i)=>{
  const t = svg.append("text").attr("x",22).attr("y",capBase[i]).attr("font-family",CAPFONT)
    .attr("font-size",19).attr("fill","#231f20");
  segs.forEach(s=>{
    const ts = t.append("tspan").text(s.t);
    if(s.b) ts.attr("font-weight","bold");
    if(s.i) ts.attr("font-style","italic");
  });
  return t;
});
const w0 = capNodes[0].node().getComputedTextLength();
const fs = 19 * 1254 / w0;
capNodes.forEach(t=>t.attr("font-size",fs.toFixed(2)));
</script>
</body></html>
